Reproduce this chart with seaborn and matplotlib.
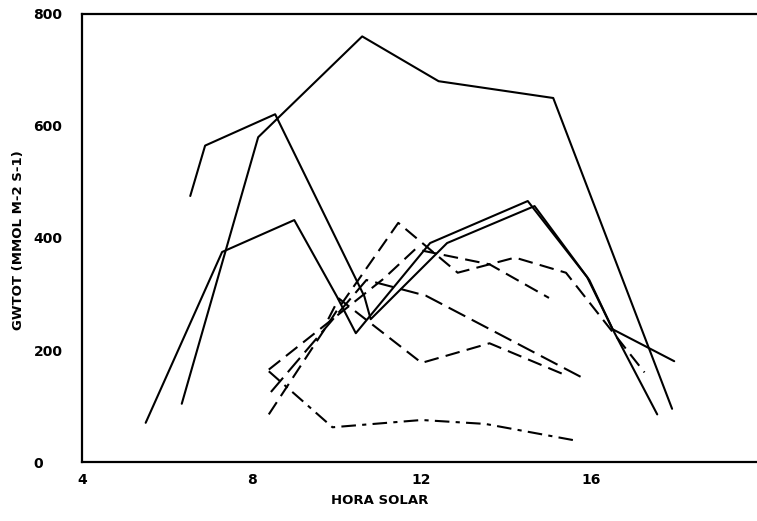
import matplotlib
matplotlib.use("Agg")
import matplotlib.pyplot as plt
import seaborn as sns
import pandas as pd

# --- data (hora solar, GWTOT) ---
s1_hora = [5.5, 7.3, 9.0, 10.0, 10.45, 12.2, 14.5, 15.9, 16.5, 17.55]
s1_gw = [70, 375, 432, 296, 230, 391, 466, 330, 237, 85]

s2_hora = [6.55, 6.9, 8.55, 10.65, 10.8, 12.6, 14.66, 15.95, 16.5, 17.95]
s2_gw = [475, 565, 621, 296, 255, 391, 457, 325, 237, 180]

s3_hora = [6.35, 8.15, 10.6, 12.4, 15.1, 17.9]
s3_gw = [104, 580, 760, 680, 650, 95]

d1_hora = [8.4, 9.9, 12.0, 13.5, 15.65]
d1_gw = [162, 62, 75, 68, 38]

e_hora = [8.4, 10.0, 11.45, 12.85, 14.2, 15.4, 17.25]
e_gw = [85, 270, 427, 338, 365, 338, 160]

f_hora = [8.4, 11.1, 11.85, 13.6, 15.0]
f_gw = [165, 327, 380, 353, 293]

g_hora = [8.45, 10.7, 12.1, 15.8]
g_gw = [125, 325, 297, 150]

h_hora = [9.8, 10.05, 12.0, 13.6, 15.3]
h_gw = [255, 292, 177, 212, 158]

x_ticks = [4, 8, 12, 16]
y_ticks = [0, 200, 400, 600, 800]

series = [
    ("S1", s1_hora, s1_gw, "-"),
    ("S2", s2_hora, s2_gw, "-"),
    ("S3", s3_hora, s3_gw, "-"),
    ("D1", d1_hora, d1_gw, (0, (7, 3, 2, 3))),
    ("E", e_hora, e_gw, (0, (7, 3.5))),
    ("F", f_hora, f_gw, (0, (7, 3.5))),
    ("G", g_hora, g_gw, (0, (9, 3.5))),
    ("H", h_hora, h_gw, (0, (7, 3.5))),
]

sns.set_theme(style="white")
plt.rcParams["font.family"] = ["DejaVu Sans"]

fig = plt.figure(figsize=(7.57, 5.21), dpi=100)
ax = fig.add_axes([82 / 757, 1 - 462 / 521, 1 - 82 / 757, (462 - 14) / 521])

for name, xs, ys, ls in series:
    df = pd.DataFrame({"hora": xs, "gw": ys})
    sns.lineplot(data=df, x="hora", y="gw", sort=False, estimator=None,
                 color="black", linewidth=1.5, linestyle=ls, ax=ax)

ax.set_xlim(4, 19.9)
ax.set_ylim(0, 800)
ax.set_xticks(x_ticks)
ax.set_yticks(y_ticks)
ax.set_xticklabels([str(t) for t in x_ticks], fontsize=10, fontweight="bold")
ax.set_yticklabels([str(t) for t in y_ticks], fontsize=10, fontweight="bold",
                   ha="left")
ax.tick_params(axis="both", direction="in", length=6, width=1.3, colors="black",
               labelcolor="black")
ax.tick_params(axis="x", pad=8)
ax.tick_params(axis="y", pad=35)

for side in ["left", "bottom", "top"]:
    ax.spines[side].set_color("black")
    ax.spines[side].set_linewidth(1.6)
ax.spines["right"].set_visible(False)

ax.set_xlabel("HORA SOLAR", fontsize=9.5, fontweight="bold", color="black")
ax.set_ylabel("GWTOT (MMOL M-2 S-1)", fontsize=9.5, fontweight="bold", color="black")
ax.xaxis.set_label_coords((380 - 82) / 675, (462 - 494) / 448)
ax.yaxis.set_label_coords((25 - 82) / 675, (462 - 240) / 448)

fig.savefig("out.png", dpi=100)
